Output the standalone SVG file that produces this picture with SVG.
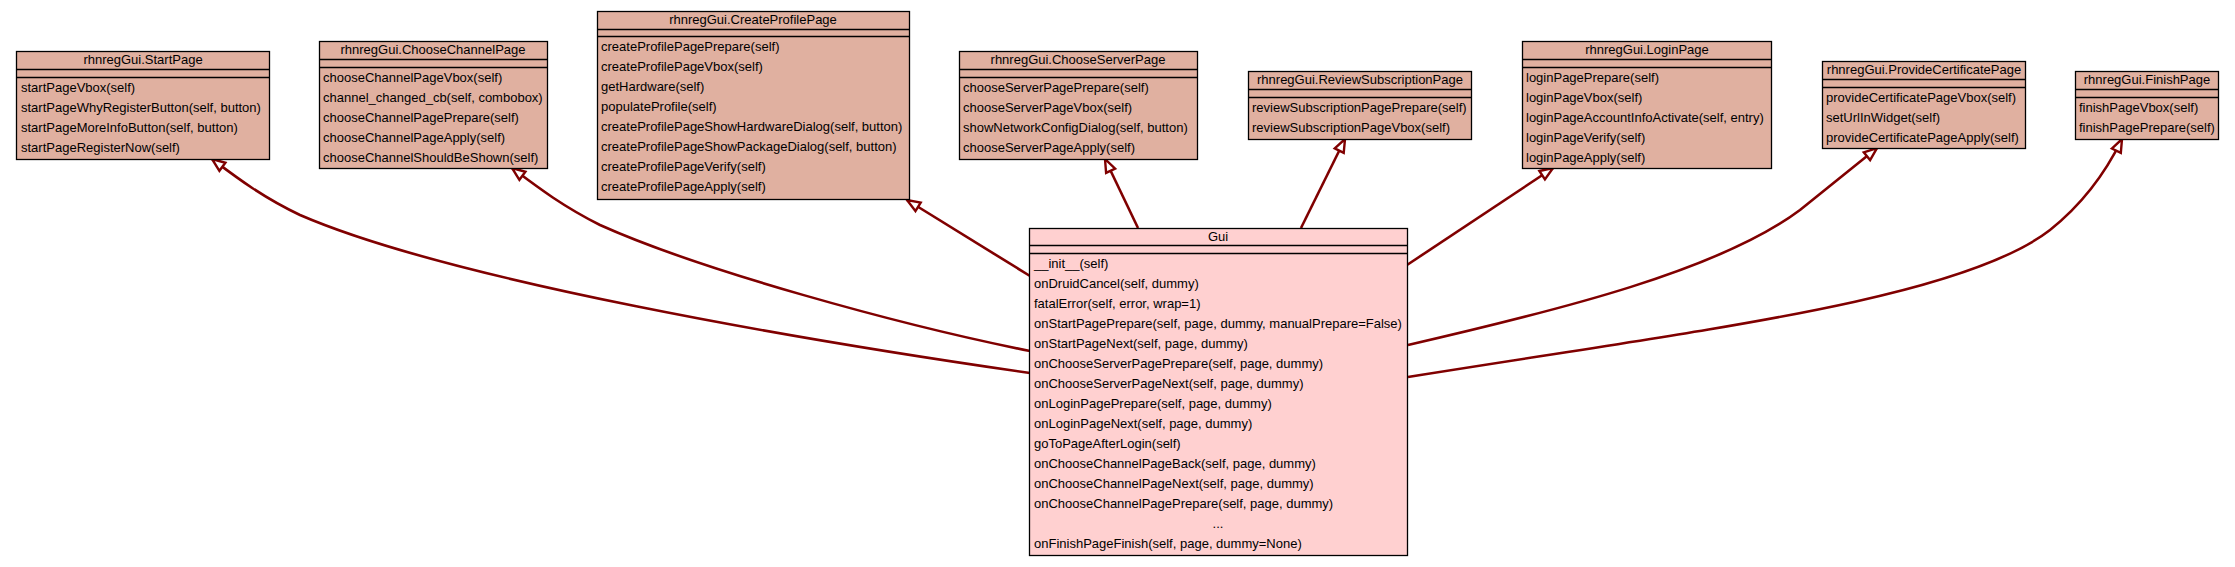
<svg xmlns="http://www.w3.org/2000/svg" width="2235" height="567" viewBox="0 0 2235 567">
<style>
.box{fill:#e0b0a0;stroke:#000;stroke-width:1.3}
.gui{fill:#ffd0d0;stroke:#000;stroke-width:1.3}
.sep{stroke:#000;stroke-width:1.3}
text{font-family:"Liberation Sans",Arial,sans-serif;font-size:13px;fill:#000}
.t{text-anchor:middle}
.e{fill:none;stroke:#800000;stroke-width:2.6;marker-end:url(#arr)}
</style>
<defs>
<marker id="arr" markerUnits="userSpaceOnUse" markerWidth="16" markerHeight="14" refX="14" refY="6" orient="auto" overflow="visible">
<path d="M1,1 L14,6 L1,11 Z" fill="#fff" stroke="#800000" stroke-width="2.4"/>
</marker>
</defs>
<rect width="2235" height="567" fill="#fff"/>
<g id="edges">
<path class="e" d="M1030,373 C800,340 450,280 300,215 C262,197 236,177 212,159"/>
<path class="e" d="M1030,351 C900,325 700,270 600,225 C562,206 536,186 512,168"/>
<path class="e" d="M1030,276 L907,200"/>
<path class="e" d="M1138,228 L1105,159"/>
<path class="e" d="M1301,228 L1345,139"/>
<path class="e" d="M1407,265 L1553,168"/>
<path class="e" d="M1408,345 C1560,310 1720,270 1800,210 C1830,186 1855,166 1877,148"/>
<path class="e" d="M1408,377 C1700,330 1960,300 2050,230 C2085,202 2106,172 2122,139"/>
</g>
<g id="StartPage">
<rect class="box" x="16.5" y="51.5" width="253" height="108"/>
<line class="sep" x1="16.5" y1="69.5" x2="269.5" y2="69.5"/>
<line class="sep" x1="16.5" y1="77.5" x2="269.5" y2="77.5"/>
<text class="t" x="143" y="64">rhnregGui.StartPage</text>
<text x="21" y="92">startPageVbox(self)</text>
<text x="21" y="112">startPageWhyRegisterButton(self, button)</text>
<text x="21" y="132">startPageMoreInfoButton(self, button)</text>
<text x="21" y="152">startPageRegisterNow(self)</text>
</g>
<g id="ChooseChannelPage">
<rect class="box" x="319.5" y="41.5" width="228" height="127"/>
<line class="sep" x1="319.5" y1="59.5" x2="547.5" y2="59.5"/>
<line class="sep" x1="319.5" y1="67.5" x2="547.5" y2="67.5"/>
<text class="t" x="433" y="54">rhnregGui.ChooseChannelPage</text>
<text x="323" y="82">chooseChannelPageVbox(self)</text>
<text x="323" y="102">channel_changed_cb(self, combobox)</text>
<text x="323" y="122">chooseChannelPagePrepare(self)</text>
<text x="323" y="142">chooseChannelPageApply(self)</text>
<text x="323" y="162">chooseChannelShouldBeShown(self)</text>
</g>
<g id="CreateProfilePage">
<rect class="box" x="597.5" y="11.5" width="312" height="188"/>
<line class="sep" x1="597.5" y1="29.5" x2="909.5" y2="29.5"/>
<line class="sep" x1="597.5" y1="36.5" x2="909.5" y2="36.5"/>
<text class="t" x="753" y="24">rhnregGui.CreateProfilePage</text>
<text x="601" y="51">createProfilePagePrepare(self)</text>
<text x="601" y="71">createProfilePageVbox(self)</text>
<text x="601" y="91">getHardware(self)</text>
<text x="601" y="111">populateProfile(self)</text>
<text x="601" y="131">createProfilePageShowHardwareDialog(self, button)</text>
<text x="601" y="151">createProfilePageShowPackageDialog(self, button)</text>
<text x="601" y="171">createProfilePageVerify(self)</text>
<text x="601" y="191">createProfilePageApply(self)</text>
</g>
<g id="ChooseServerPage">
<rect class="box" x="959.5" y="51.5" width="238" height="108"/>
<line class="sep" x1="959.5" y1="69.5" x2="1197.5" y2="69.5"/>
<line class="sep" x1="959.5" y1="77.5" x2="1197.5" y2="77.5"/>
<text class="t" x="1078" y="64">rhnregGui.ChooseServerPage</text>
<text x="963" y="92">chooseServerPagePrepare(self)</text>
<text x="963" y="112">chooseServerPageVbox(self)</text>
<text x="963" y="132">showNetworkConfigDialog(self, button)</text>
<text x="963" y="152">chooseServerPageApply(self)</text>
</g>
<g id="ReviewSubscriptionPage">
<rect class="box" x="1248.5" y="71.5" width="223" height="68"/>
<line class="sep" x1="1248.5" y1="89.5" x2="1471.5" y2="89.5"/>
<line class="sep" x1="1248.5" y1="97.5" x2="1471.5" y2="97.5"/>
<text class="t" x="1360" y="84">rhnregGui.ReviewSubscriptionPage</text>
<text x="1252" y="112">reviewSubscriptionPagePrepare(self)</text>
<text x="1252" y="132">reviewSubscriptionPageVbox(self)</text>
</g>
<g id="LoginPage">
<rect class="box" x="1522.5" y="41.5" width="249" height="127"/>
<line class="sep" x1="1522.5" y1="59.5" x2="1771.5" y2="59.5"/>
<line class="sep" x1="1522.5" y1="67.5" x2="1771.5" y2="67.5"/>
<text class="t" x="1647" y="54">rhnregGui.LoginPage</text>
<text x="1526" y="82">loginPagePrepare(self)</text>
<text x="1526" y="102">loginPageVbox(self)</text>
<text x="1526" y="122">loginPageAccountInfoActivate(self, entry)</text>
<text x="1526" y="142">loginPageVerify(self)</text>
<text x="1526" y="162">loginPageApply(self)</text>
</g>
<g id="ProvideCertificatePage">
<rect class="box" x="1822.5" y="61.5" width="203" height="87"/>
<line class="sep" x1="1822.5" y1="79.5" x2="2025.5" y2="79.5"/>
<line class="sep" x1="1822.5" y1="87.5" x2="2025.5" y2="87.5"/>
<text class="t" x="1924" y="74">rhnregGui.ProvideCertificatePage</text>
<text x="1826" y="102">provideCertificatePageVbox(self)</text>
<text x="1826" y="122">setUrlInWidget(self)</text>
<text x="1826" y="142">provideCertificatePageApply(self)</text>
</g>
<g id="FinishPage">
<rect class="box" x="2075.5" y="71.5" width="143" height="68"/>
<line class="sep" x1="2075.5" y1="89.5" x2="2218.5" y2="89.5"/>
<line class="sep" x1="2075.5" y1="97.5" x2="2218.5" y2="97.5"/>
<text class="t" x="2147" y="84">rhnregGui.FinishPage</text>
<text x="2079" y="112">finishPageVbox(self)</text>
<text x="2079" y="132">finishPagePrepare(self)</text>
</g>
<g id="Gui">
<rect class="gui" x="1029.5" y="228.5" width="378" height="327"/>
<line class="sep" x1="1029.5" y1="245.5" x2="1407.5" y2="245.5"/>
<line class="sep" x1="1029.5" y1="253.5" x2="1407.5" y2="253.5"/>
<text class="t" x="1218" y="241">Gui</text>
<text x="1034" y="268">__init__(self)</text>
<text x="1034" y="288">onDruidCancel(self, dummy)</text>
<text x="1034" y="308">fatalError(self, error, wrap=1)</text>
<text x="1034" y="328">onStartPagePrepare(self, page, dummy, manualPrepare=False)</text>
<text x="1034" y="348">onStartPageNext(self, page, dummy)</text>
<text x="1034" y="368">onChooseServerPagePrepare(self, page, dummy)</text>
<text x="1034" y="388">onChooseServerPageNext(self, page, dummy)</text>
<text x="1034" y="408">onLoginPagePrepare(self, page, dummy)</text>
<text x="1034" y="428">onLoginPageNext(self, page, dummy)</text>
<text x="1034" y="448">goToPageAfterLogin(self)</text>
<text x="1034" y="468">onChooseChannelPageBack(self, page, dummy)</text>
<text x="1034" y="488">onChooseChannelPageNext(self, page, dummy)</text>
<text x="1034" y="508">onChooseChannelPagePrepare(self, page, dummy)</text>
<text class="t" x="1218" y="528">...</text>
<text x="1034" y="548">onFinishPageFinish(self, page, dummy=None)</text>
</g>
</svg>
